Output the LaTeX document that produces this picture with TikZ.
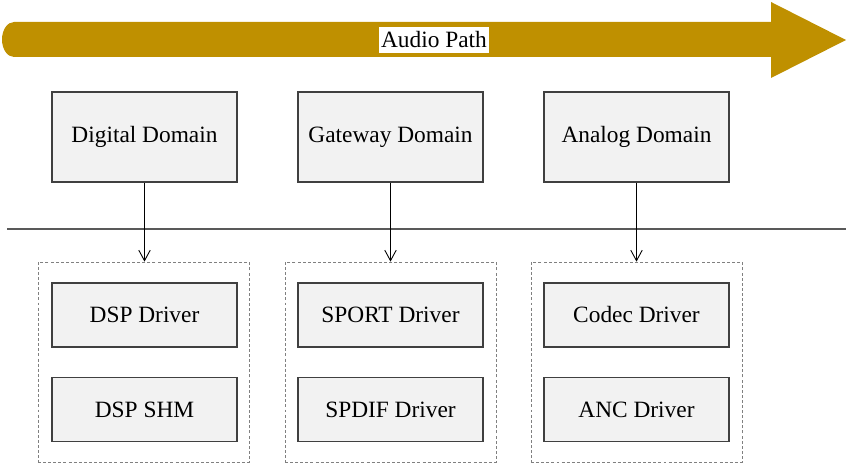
\documentclass[tikz,border=0pt]{standalone}
\usepackage{fontspec}
\setmainfont{Liberation Serif}
\usepackage{tikz}
\usetikzlibrary{arrows.meta}
\usetikzlibrary{positioning}
\tikzset{blk/.style = {draw=boxline, fill=boxfill, line width=0.6pt,
                       minimum width=3.7cm, inner sep=0,
                       font=\fontsize{13.3}{16}\selectfont}}
\tikzset{grp/.style = {draw=grpline, dash pattern=on 1.7pt off 1.2pt, line width=0.4pt,
                       minimum width=4.22cm, minimum height=4cm, inner sep=0}}
\tikzset{down/.style = {-{Straight Barb[length=6pt, width=6.5pt]}, line width=0.5pt}}
\definecolor{gold}{RGB}{191, 144, 0}
\definecolor{boxfill}{RGB}{242, 242, 242}
\definecolor{boxline}{RGB}{64, 64, 64}
\definecolor{grpline}{RGB}{128, 128, 128}
\definecolor{rule}{RGB}{89, 89, 89}
\begin{document}
\begin{tikzpicture}[x=0.02cm, y=-0.02cm]
      \useasboundingbox (0, 0) rectangle (849, 465);

      % audio path arrow
      \fill [gold] (14, 22) -- (771, 22) -- (771, 2) -- (846, 40) -- (771, 78)
        -- (771, 57) -- (14, 57) arc [start angle=90, end angle=270, x radius=12, y radius=17.5] -- cycle;
      \node (path) [fill=white, inner xsep=1pt, inner ysep=2.5pt, font=\fontsize{13.3}{16}\selectfont] at (434, 40) {Audio Path};

      % domains
      \node (dig) [blk, minimum height=1.8cm] at (144.5, 137) {Digital Domain};
      \node (gate) [blk, minimum height=1.8cm] at (390.5, 137) {Gateway Domain};
      \node (ana) [blk, minimum height=1.8cm] at (636.5, 137) {Analog Domain};

      \draw [rule, line width=0.8pt] (7, 229) -- (846, 229);

      % drivers
      \node (digGrp) [grp] at (143.5, 362) {};
      \node (gateGrp) [grp] at (390.5, 362) {};
      \node (anaGrp) [grp] at (636.5, 362) {};

      \node (dspDrv) [blk, minimum height=1.28cm] at (144.5, 315) {DSP Driver};
      \node (dspShm) [blk, minimum height=1.28cm] at (144.5, 409.5) {DSP SHM};
      \node (sportDrv) [blk, minimum height=1.28cm] at (390.5, 315) {SPORT Driver};
      \node (spdifDrv) [blk, minimum height=1.28cm] at (390.5, 409.5) {SPDIF Driver};
      \node (codecDrv) [blk, minimum height=1.28cm] at (636.5, 315) {Codec Driver};
      \node (ancDrv) [blk, minimum height=1.28cm] at (636.5, 409.5) {ANC Driver};

      \draw [down] (dig.south) -- (dig.south |- digGrp.north);
      \draw [down] (gate.south) -- (gateGrp.north);
      \draw [down] (ana.south) -- (anaGrp.north);
    \end{tikzpicture}
\end{document}
